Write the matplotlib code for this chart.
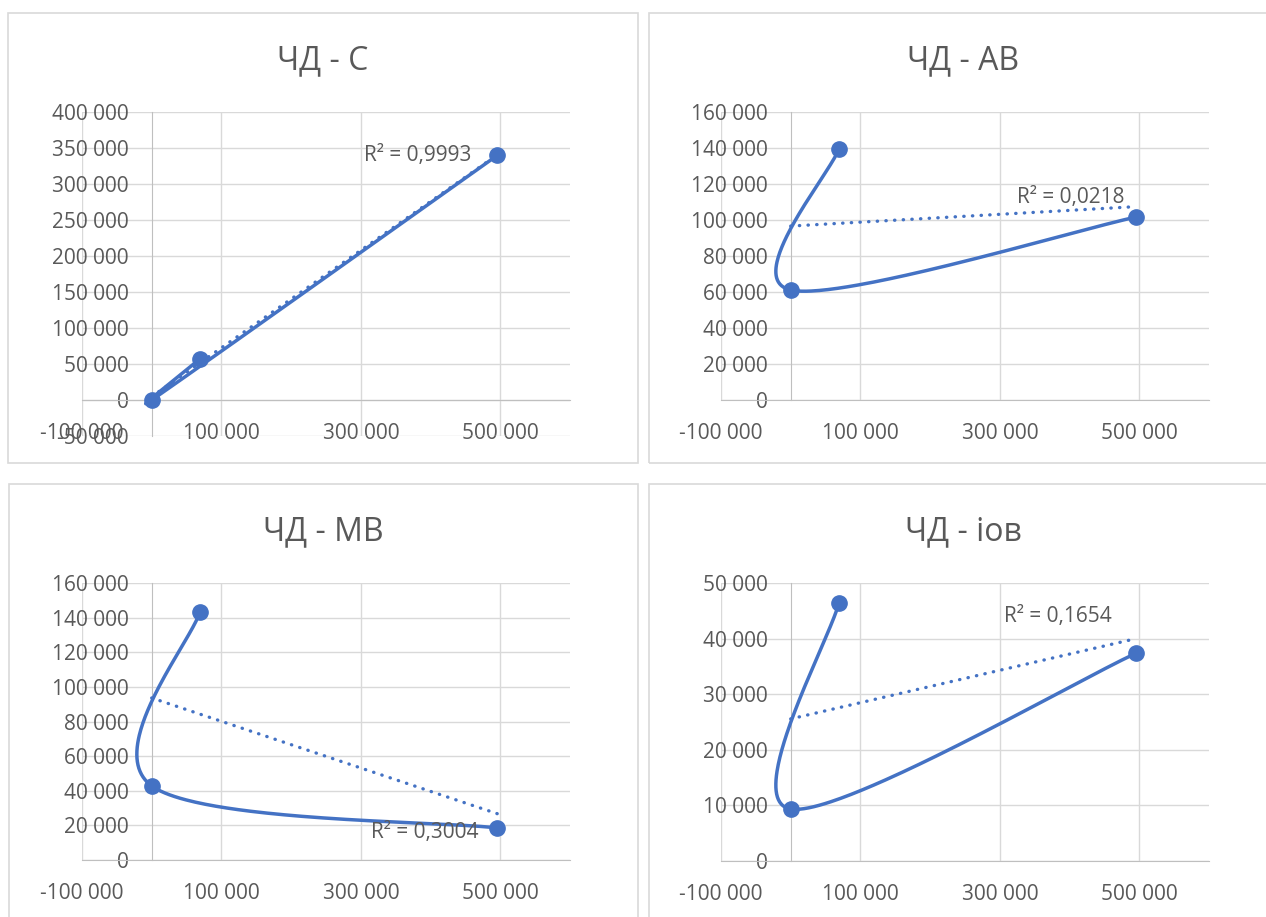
import numpy as np
import matplotlib
matplotlib.use("Agg")
import matplotlib.pyplot as plt
from matplotlib.ticker import FuncFormatter
from matplotlib.patches import Rectangle

plt.rcParams['font.family'] = ['Open Sans', 'DejaVu Sans']

W, H = 1266, 917
BLUE = '#4472C4'
TEXT = '#595959'
GRID = '#D9D9D9'
AXIS = '#BFBFBF'

# data (x = ЧД, same three rows for each chart)
titles = ['ЧД - С', 'ЧД - АВ', 'ЧД - МВ', 'ЧД - іов']
chd = [69000, 0, 496000]
c_vals = [57000, 0, 340000]
ab_vals = [139400, 61100, 101700]
mb_vals = [143300, 42800, 18500]
iov_vals = [46400, 9350, 37400]
r2_vals = [0.9993, 0.0218, 0.3004, 0.1654]

x_ticks = [-100000, 100000, 300000, 500000]
y_ticks_c = list(range(-50000, 400001, 50000))
y_ticks_ab = list(range(0, 160001, 20000))
y_ticks_mb = list(range(0, 160001, 20000))
y_ticks_iov = list(range(0, 50001, 10000))


def fmt(v, pos=None):
    return f"{int(round(v)):,}".replace(",", " ")


def excelSmooth(pts):
    # bezier through the points, excel style: 1/6 tangents,
    # clamped to half of the segment length
    out = []
    n = len(pts)
    for i in range(n - 1):
        p0 = pts[i - 1] if i > 0 else pts[i]
        p1 = pts[i]
        p2 = pts[i + 1]
        p3 = pts[i + 2] if i + 2 < n else pts[i + 1]
        d12 = np.hypot(*(p2 - p1))
        t1 = (p2 - p0) / 6
        t2 = (p3 - p1) / 6
        l1 = np.hypot(*t1)
        l2 = np.hypot(*t2)
        if l1 > d12 / 2:
            t1 = t1 * (d12 / 2) / l1
        if l2 > d12 / 2:
            t2 = t2 * (d12 / 2) / l2
        c1 = p1 + t1
        c2 = p2 - t2
        t = np.linspace(0, 1, 100)[:, None]
        seg = (1 - t) ** 3 * p1 + 3 * (1 - t) ** 2 * t * c1 + 3 * (1 - t) * t ** 2 * c2 + t ** 3 * p2
        out.append(seg if i == 0 else seg[1:])
    return np.vstack(out)


fig = plt.figure(figsize=(W / 100, H / 100), dpi=100)

# chart area frames (px): x0, y0, x1, y1
frames = [(8, 13, 638, 463), (649, 13, 1272, 463), (9, 484, 638, 925), (649, 484, 1272, 925)]
title_x = [323, 963, 323, 963]
# plot areas (px): left, top, right, bottom
plots = [(82, 112, 570, 436), (721, 112, 1209, 400), (82, 583, 570, 860), (721, 583, 1209, 861)]
# R² label anchor in data units
r2_pos = [(304000, 340000), (325000, 112500), (314000, 15600), (306000, 43900)]

series = [c_vals, ab_vals, mb_vals, iov_vals]
yticks = [y_ticks_c, y_ticks_ab, y_ticks_mb, y_ticks_iov]

for k in range(4):
    x0, y0, x1, y1 = frames[k]
    fig.patches.append(Rectangle((x0 / W, 1 - y1 / H), (x1 - x0) / W, (y1 - y0) / H,
                                 transform=fig.transFigure, fill=False, ec=GRID, lw=1.2))
    fig.text(title_x[k] / W, 1 - (y0 + 48) / H, titles[k], ha='center', va='center',
             fontsize=23, color=TEXT)

    l, t, r, b = plots[k]
    ax = fig.add_axes([l / W, 1 - b / H, (r - l) / W, (b - t) / H])
    yt = yticks[k]
    ax.set_xlim(-100000, 600000)
    ax.set_ylim(yt[0], yt[-1])
    ax.set_xticks(x_ticks)
    ax.set_yticks(yt)
    ax.xaxis.set_major_formatter(FuncFormatter(fmt))
    ax.yaxis.set_major_formatter(FuncFormatter(fmt))
    ax.grid(True, color=GRID, lw=1)
    ax.set_axisbelow(True)
    for s in ['top', 'right']:
        ax.spines[s].set_visible(False)
    ax.spines['left'].set_position(('data', 0))
    ax.spines['bottom'].set_position(('data', 0))
    ax.spines['left'].set_color(AXIS)
    ax.spines['bottom'].set_color(AXIS)
    ax.tick_params(length=0, pad=16.5, labelsize=15, labelcolor=TEXT)
    ax.patch.set_alpha(0)

    xs = np.array(chd, dtype=float)
    ys = np.array(series[k], dtype=float)

    # smooth line computed in screen space like excel does
    disp = ax.transData.transform(np.column_stack([xs, ys]))
    curve = ax.transData.inverted().transform(excelSmooth(disp))
    ax.plot(curve[:, 0], curve[:, 1], color=BLUE, lw=2.5, solid_capstyle='round', zorder=3)
    ax.plot(xs, ys, 'o', color=BLUE, ms=11, zorder=4)

    # linear trendline
    a, c = np.polyfit(xs, ys, 1)
    tx = np.array([xs.min(), xs.max()])
    ax.plot(tx, a * tx + c, color=BLUE, lw=2.4, ls=(0, (0.1, 2.5)),
            dash_capstyle='round', zorder=3)

    lbl = f"R² = {r2_vals[k]:.4f}".replace('.', ',')
    ax.text(r2_pos[k][0], r2_pos[k][1], lbl, ha='left', va='center',
            fontsize=15, color=TEXT, zorder=5)

fig.savefig('out.png', dpi=100)
